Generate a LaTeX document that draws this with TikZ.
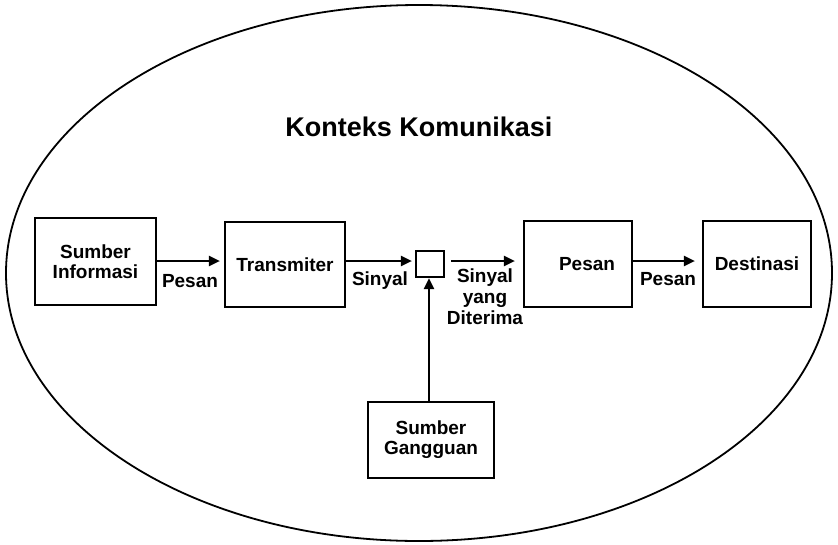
\documentclass[tikz,border=0pt]{standalone}
\usepackage{fontspec}
\setmainfont{Liberation Sans}
\usetikzlibrary{arrows.meta,calc}
\begin{document}
\begin{tikzpicture}[x=1pt,y=-1pt,
  box/.style={draw,line width=2.2pt,rectangle,inner sep=0pt,align=center,font=\bfseries\fontsize{19}{20}\selectfont},
  lbl/.style={inner sep=0pt,align=center,font=\bfseries\fontsize{19}{21}\selectfont},
  arr/.style={line width=2.1pt,-{Triangle[length=11pt,width=10pt]}}]
\useasboundingbox (0,0) rectangle (838,544);
\draw[line width=1.8pt] (419,273) ellipse [x radius=413, y radius=268];
\node[inner sep=0pt,font=\bfseries\fontsize{27}{30}\selectfont] (title) at (419,127) {Konteks Komunikasi};
\node[box,minimum width=121pt,minimum height=87pt] (si) at (95.5,261.5) {Sumber\\Informasi};
\node[box,minimum width=120pt,minimum height=85pt] (tr) at (285,264.5) {Transmiter};
\node[box,minimum width=28pt,minimum height=26pt] (sq) at (430,264) {};
\node[box,minimum width=108pt,minimum height=86pt] (ps) at (578,264) {\hspace*{18pt}Pesan};
\node[box,minimum width=108pt,minimum height=86pt] (de) at (757,264) {Destinasi};
\node[box,minimum width=126pt,minimum height=76pt] (sg) at (431,440) {Sumber\\Gangguan};
\coordinate (a1) at (si.east |- 0,261);
\coordinate (a2) at (tr.east |- 0,261);
\coordinate (a3) at (sq.east |- 0,261);
\coordinate (a4) at (ps.east |- 0,261);
\draw[arr,shorten >=4pt] (a1) -- (a1 -| tr.west);
\draw[arr,shorten >=3pt] (a2) -- (a2 -| sq.west);
\draw[arr,shorten <=6pt,shorten >=8pt] (a3) -- (a3 -| ps.west);
\draw[arr,shorten >=7pt] (a4) -- (a4 -| de.west);
\draw[arr] (sg.north -| 429,0) -- (sq.south -| 429,0);
\node[lbl] (l1) at (190,281) {Pesan};
\node[lbl] (l2) at (380,281) {Sinyal};
\node[lbl,anchor=north] (l3) at (485,269) {Sinyal\\yang\\Diterima};
\node[lbl] (l4) at (668,279) {Pesan};
\end{tikzpicture}
\end{document}
